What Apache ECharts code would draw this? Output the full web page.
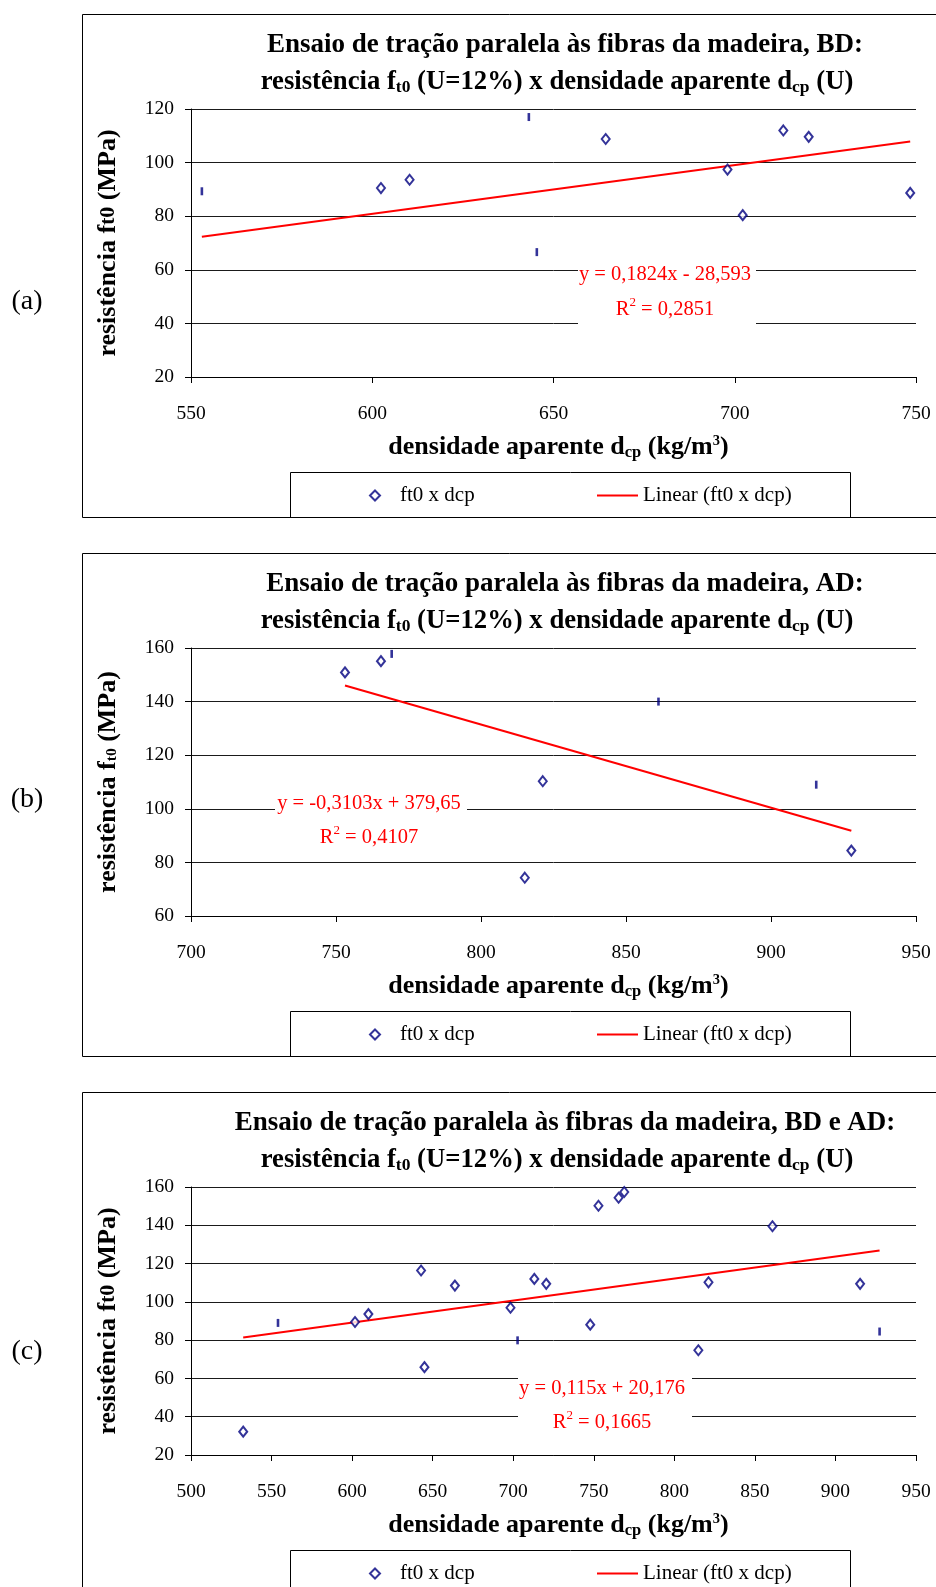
<!DOCTYPE html>
<html><head><meta charset="utf-8">
<script src="https://cdn.jsdelivr.net/npm/echarts@6/dist/echarts.min.js"></script>
<style>html,body{margin:0;padding:0;background:#fff}#c{width:936px;height:1587px}</style>
</head><body><div id="c"></div>
<script>
const FONT = "'Liberation Serif', 'Times New Roman', serif";

// ---- Chart (a): BD ----
const xA = [553.0, 602.4, 610.3, 643.2, 645.4, 664.4, 698.0, 702.2, 713.4, 720.4, 748.4];
const yA = [89.3, 90.5, 93.6, 117.0, 66.6, 108.8, 97.4, 80.4, 112.0, 109.6, 88.7];
const markA = ['bar','dia','dia','bar','bar','dia','dia','dia','dia','dia','dia'];
const trendXA = [553.0, 748.4];
const trendYA = [72.3, 107.9];
const xTicksA = [550, 600, 650, 700, 750];
const yTicksA = [20, 40, 60, 80, 100, 120];
const eqA = 'y = 0,1824x - 28,593';
const r2A = '0,2851';

// ---- Chart (b): AD ----
const xB = [753.1, 765.5, 769.2, 861.2, 821.3, 815.1, 915.6, 927.7];
const yB = [150.9, 155.1, 157.8, 140.0, 110.3, 74.3, 109.0, 84.4];
const markB = ['dia','dia','bar','bar','dia','dia','bar','dia'];
const trendXB = [753.1, 927.7];
const trendYB = [146.0, 91.8];
const xTicksB = [700, 750, 800, 850, 900, 950];
const yTicksB = [60, 80, 100, 120, 140, 160];
const eqB = 'y = -0,3103x + 379,65';
const r2B = '0,4107';

// ---- Chart (c): BD e AD ----
const xC = [532.4, 554.0, 601.8, 610.1, 642.8, 644.9, 663.8, 698.3, 702.7, 713.1, 720.5, 747.8, 752.9, 765.4, 768.9, 814.9, 821.2, 860.9, 915.3, 927.4];
const yC = [32.2, 89.0, 89.5, 93.6, 116.4, 65.9, 108.5, 96.9, 79.9, 112.0, 109.4, 88.1, 150.2, 154.4, 157.4, 74.7, 110.2, 139.5, 109.4, 84.5];
const markC = ['dia','bar','dia','dia','dia','dia','dia','dia','bar','dia','dia','dia','dia','dia','dia','dia','dia','dia','dia','bar'];
const trendXC = [532.4, 927.4];
const trendYC = [81.4, 126.8];
const xTicksC = [500, 550, 600, 650, 700, 750, 800, 850, 900, 950];
const yTicksC = [20, 40, 60, 80, 100, 120, 140, 160];
const eqC = 'y = 0,115x + 20,176';
const r2C = '0,1665';

const panels = [
  {base: 0, xs: xA, ys: yA, marks: markA, tx: trendXA, ty: trendYA, xt: xTicksA, yt: yTicksA,
   t1: 'Ensaio de tração paralela às fibras da madeira, BD:', tag: '(a)', tagY: 302,
   eq: eqA, r2: r2A, eqX: 665, eqY: 292, box: [578, 256, 178, 74], ysub: 't'},
  {base: 539, xs: xB, ys: yB, marks: markB, tx: trendXB, ty: trendYB, xt: xTicksB, yt: yTicksB,
   t1: 'Ensaio de tração paralela às fibras da madeira, AD:', tag: '(b)', tagY: 799.5,
   eq: eqB, r2: r2B, eqX: 369, eqY: 820.5, box: [275, 786, 192, 64], ysub: 'sub'},
  {base: 1078, xs: xC, ys: yC, marks: markC, tx: trendXC, ty: trendYC, xt: xTicksC, yt: yTicksC,
   t1: 'Ensaio de tração paralela às fibras da madeira, BD e AD:', tag: '(c)', tagY: 1352,
   eq: eqC, r2: r2C, eqX: 602, eqY: 1405.5, box: [518, 1369, 174, 66], ysub: 't'}
];
const T2 = 'resistência f{sub|t0} (U=12%) x densidade aparente d{sub|cp} (U)';

const NAVY = '#000080';
const RED = '#ff0000';
const grid = [], xAxis = [], yAxis = [], series = [], legend = [], graphic = [];

panels.forEach((p, i) => {
  const b = p.base;
  grid.push({left: 191, width: 725, top: b + 109, height: 268});
  xAxis.push({
    type: 'value', gridIndex: i,
    min: p.xt[0], max: p.xt[p.xt.length - 1], interval: p.xt[1] - p.xt[0],
    axisLine: {show: true, onZero: false, lineStyle: {color: '#000', width: 1}},
    axisTick: {show: true, inside: false, length: 6, lineStyle: {color: '#000'}},
    axisLabel: {margin: 27, color: '#000', fontFamily: FONT, fontSize: 19.5},
    splitLine: {show: false},
    name: 'densidade aparente d{sub|cp} (kg/m{sup|3})',
    nameLocation: 'middle', nameGap: 57,
    nameTextStyle: {
      color: '#000', fontFamily: FONT, fontSize: 26, fontWeight: 'bold', padding: [0, 0, 0, 10],
      rich: {
        sub: {color: '#000', fontFamily: FONT, fontSize: 16.5, fontWeight: 'bold', padding: [10, 0, 0, 0]},
        sup: {color: '#000', fontFamily: FONT, fontSize: 14.5, fontWeight: 'bold', padding: [0, 0, 12, 0]}
      }
    }
  });
  yAxis.push({
    type: 'value', gridIndex: i,
    min: p.yt[0], max: p.yt[p.yt.length - 1], interval: p.yt[1] - p.yt[0],
    axisLine: {show: true, lineStyle: {color: '#000', width: 1}},
    axisTick: {show: true, inside: false, length: 6, lineStyle: {color: '#000'}},
    axisLabel: {margin: 17, color: '#000', fontFamily: FONT, fontSize: 19.5},
    splitLine: {show: true, lineStyle: {color: '#1a1a1a', width: 1}},
    name: 'resistência f{' + p.ysub + '|t0} (MPa)',
    nameLocation: 'middle', nameGap: 70,
    nameTextStyle: {
      color: '#000', fontFamily: FONT, fontSize: 26, fontWeight: 'bold',
      rich: {
        t: {color: '#000', fontFamily: FONT, fontSize: 22, fontWeight: 'bold'},
        sub: {color: '#000', fontFamily: FONT, fontSize: 15.5, fontWeight: 'bold', padding: [8, 0, 0, 0]}
      }
    }
  });
  series.push({
    type: 'scatter', name: 'ft0 x dcp', xAxisIndex: i, yAxisIndex: i,
    symbol: 'emptyDiamond', symbolSize: [8, 10],
    itemStyle: {color: NAVY, borderWidth: 2.2},
    data: p.xs.map((x, k) => p.marks[k] === 'bar'
      ? {value: [x, p.ys[k]], symbol: 'rect', symbolSize: [2.6, 8], itemStyle: {color: NAVY, borderWidth: 0}}
      : [x, p.ys[k]]),
    z: 4, silent: true
  });
  series.push({
    type: 'line', name: 'Linear (ft0 x dcp)', xAxisIndex: i, yAxisIndex: i,
    data: p.tx.map((x, k) => [x, p.ty[k]]),
    symbol: 'none', showSymbol: false,
    lineStyle: {color: RED, width: 2}, itemStyle: {color: RED},
    z: 3, silent: true
  });
  legend.push({
    data: ['ft0 x dcp'], left: 369, top: b + 485, padding: 0,
    itemWidth: 10, itemHeight: 10, selectedMode: false,
    textStyle: {fontFamily: FONT, fontSize: 21, color: '#000', padding: [0, 0, 0, 15]}
  });
  legend.push({
    data: [{name: 'Linear (ft0 x dcp)', icon: 'rect'}], left: 597, top: b + 485, padding: 0,
    itemWidth: 41, itemHeight: 2, selectedMode: false,
    itemStyle: {color: RED, borderWidth: 0},
    textStyle: {fontFamily: FONT, fontSize: 21, color: '#000', padding: [0, 0, 0, 0]}
  });

  // outer border (right side runs off the page)
  graphic.push({type: 'rect', z: 1, silent: true,
    shape: {x: 82.5, y: b + 14.5, width: 900, height: 503},
    style: {fill: 'none', stroke: '#000', lineWidth: 1}});
  // legend box
  graphic.push({type: 'rect', z: 1, silent: true,
    shape: {x: 290.5, y: b + 472.5, width: 560, height: 45},
    style: {fill: 'none', stroke: '#000', lineWidth: 1}});
  // title, line 1
  graphic.push({type: 'text', z: 5, silent: true,
    style: {
      x: 565, y: b + 45.5, align: 'center', verticalAlign: 'middle', text: p.t1,
      fontFamily: FONT, fontSize: 27, fontWeight: 'bold', fill: '#000'
    }});
  // title, line 2
  graphic.push({type: 'text', z: 5, silent: true,
    style: {
      x: 557, y: b + 82, align: 'center', verticalAlign: 'middle', text: T2,
      fontFamily: FONT, fontSize: 26.7, fontWeight: 'bold', fill: '#000', lineHeight: 34,
      rich: {sub: {fontFamily: FONT, fontSize: 17.5, fontWeight: 'bold', fill: '#000', padding: [10, 0, 0, 0]}}
    }});
  // panel tag
  graphic.push({type: 'text', z: 5, silent: true,
    style: {x: 27, y: p.tagY, align: 'center', verticalAlign: 'middle', text: p.tag,
      fontFamily: FONT, fontSize: 28, fill: '#000'}});
  // trendline equation label
  graphic.push({type: 'rect', z: 50, silent: true,
    shape: {x: p.box[0], y: p.box[1], width: p.box[2], height: p.box[3]},
    style: {fill: '#fff', stroke: null}});
  graphic.push({type: 'text', z: 51, silent: true,
    style: {x: p.eqX, y: p.eqY, align: 'center', verticalAlign: 'middle',
      text: p.eq + '\nR{sup|2} = ' + p.r2,
      fontFamily: FONT, fontSize: 20.5, fill: RED, lineHeight: 34.5,
      rich: {sup: {fontFamily: FONT, fontSize: 13, fill: RED, padding: [0, 0, 14, 0]}}}});
});

const chart = echarts.init(document.getElementById('c'), null, {width: 936, height: 1587});
chart.setOption({
  animation: false,
  backgroundColor: '#fff',
  grid, xAxis, yAxis, series, legend, graphic
});
</script></body></html>
